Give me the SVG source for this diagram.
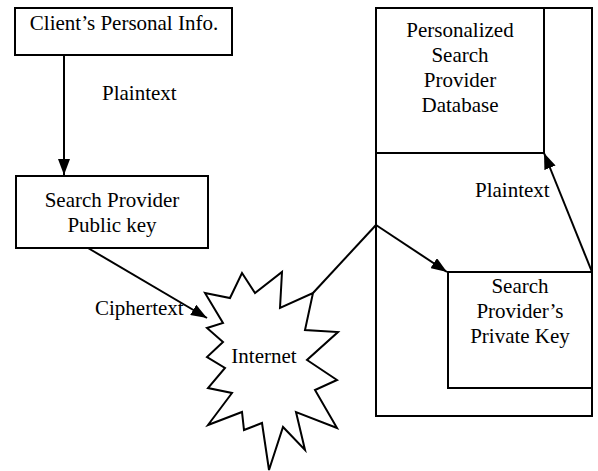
<svg xmlns="http://www.w3.org/2000/svg" width="598" height="471" viewBox="0 0 598 471">
<style>
  .box { fill: #fff; stroke: #000; stroke-width: 2; }
  .conn { fill: none; stroke: #000; stroke-width: 2; }
  text { font-family: "Liberation Serif", "Times New Roman", Times, "DejaVu Serif", serif; font-size: 21px; fill: #000; }
  .c { text-anchor: middle; }
</style>
<defs>
  <marker id="arr" viewBox="0 0 16 12" markerWidth="16" markerHeight="12" refX="16" refY="6" orient="auto" markerUnits="userSpaceOnUse">
    <path d="M0,0 L16,6 L0,12 z" fill="#000"/>
  </marker>
</defs>
<rect width="598" height="471" fill="#fff"/>

<g id="server">
  <rect class="box" x="376" y="8" width="216" height="408"/>
</g>
<g id="database">
  <rect class="box" x="376" y="8" width="168" height="145"/>
  <text class="c" x="460" y="37" font-family="Liberation Serif, serif">Personalized</text>
  <text class="c" x="460" y="62" font-family="Liberation Serif, serif">Search</text>
  <text class="c" x="460" y="87" font-family="Liberation Serif, serif">Provider</text>
  <text class="c" x="460" y="112" font-family="Liberation Serif, serif">Database</text>
</g>
<g id="private-key">
  <rect class="box" x="448" y="272" width="144" height="116"/>
  <text class="c" x="520" y="293">Search</text>
  <text class="c" x="520" y="318">Provider’s</text>
  <text class="c" x="520" y="343">Private Key</text>
</g>
<g id="client">
  <rect class="box" x="15" y="8" width="217" height="47"/>
  <text class="c" x="124" y="30">Client’s Personal Info.</text>
</g>
<g id="public-key">
  <rect class="box" x="16" y="176" width="192" height="72"/>
  <text class="c" x="112" y="207">Search Provider</text>
  <text class="c" x="112" y="232">Public key</text>
</g>
<g id="internet">
  <polygon class="box" points="205,293 230,298 242,273 255,293 282,272 280,308 313,293 305,330 338,332 307,360 337,380 315,390 337,428 296,412 305,450 283,427 269,470 262,423 244,430 242,412 208,425 232,393 208,388 225,368 207,357 223,342 207,328 223,323"/>
  <text class="c" x="264" y="363">Internet</text>
</g>

<g id="connectors">
  <line class="conn" x1="64" y1="55" x2="64" y2="175" marker-end="url(#arr)"/>
  <line class="conn" x1="88" y1="248" x2="207" y2="318" marker-end="url(#arr)"/>
  <polyline class="conn" points="313,293 376,225"/>
  <line class="conn" x1="376" y1="225" x2="447" y2="272" marker-end="url(#arr)"/>
  <line class="conn" x1="592" y1="272" x2="544" y2="153" marker-end="url(#arr)"/>
</g>

<g id="labels">
  <text x="102" y="100">Plaintext</text>
  <text x="95" y="315">Ciphertext</text>
  <text x="475" y="197">Plaintext</text>
</g>
</svg>
